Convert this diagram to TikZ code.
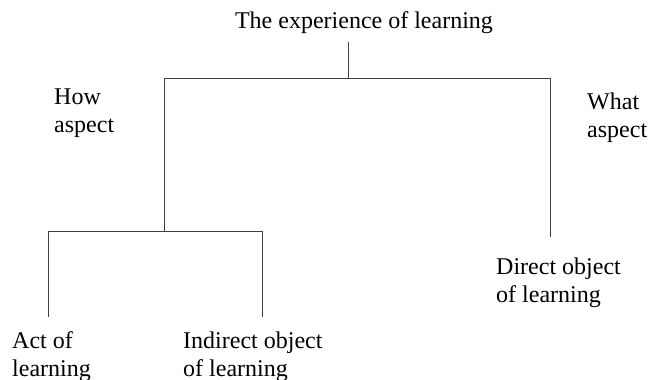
\documentclass[tikz,border=0pt]{standalone}
\usepackage{fontspec}
\setmainfont{Liberation Serif}
\begin{document}
\begin{tikzpicture}[x=1pt,y=-1pt,
  lbl/.style={font=\fontsize{24}{28}\selectfont, inner sep=0pt, anchor=base west, align=left},
  branch/.style={draw=black!75, line width=1pt}]
\useasboundingbox (0,0) rectangle (649,380);
% labels (anchor = baseline of the last line)
\node[lbl, anchor=base] (title) at (364,28) {The experience of learning};
\node[lbl] (how) at (54,132) {How\\aspect};
\node[lbl] (what) at (587,137) {What\\aspect};
\node[lbl] (direct) at (496,302) {Direct object\\of learning};
\node[lbl] (act) at (12,376) {Act of\\learning};
\node[lbl] (indirect) at (183,376) {Indirect object\\of learning};
% skeleton points
\coordinate (t0) at (348,42);
\coordinate (j1) at (348,78);
\coordinate (l1) at (164,78);
\coordinate (r1) at (550,78);
\coordinate (r2) at (550,237);
\coordinate (l2) at (164,231);
\coordinate (a1) at (48,231);
\coordinate (a2) at (48,317);
\coordinate (i1) at (262,231);
\coordinate (i2) at (262,317);
% connectors
\draw[branch] (t0) -- (j1);
\draw[branch] (l1) -- (r1);
\draw[branch] (r1) -- (r2);
\draw[branch] (l1) -- (l2);
\draw[branch] (a1) -- (i1);
\draw[branch] (a1) -- (a2);
\draw[branch] (i1) -- (i2);
\end{tikzpicture}
\end{document}
